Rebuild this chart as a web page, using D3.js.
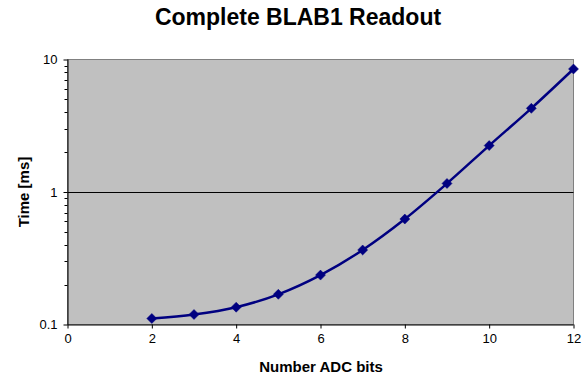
<!DOCTYPE html>
<html>
<head>
<meta charset="utf-8">
<script src="https://cdn.jsdelivr.net/npm/d3@7"></script>
<style>
html,body{margin:0;padding:0;background:#fff;}
svg{display:block;font-family:"Liberation Sans",Arial,Helvetica,sans-serif;}
</style>
</head>
<body>
<svg id="chart" width="584" height="377"></svg>
<script>
const titleText = "Complete BLAB1 Readout";
const xTitle = "Number ADC bits";
const yTitle = "Time [ms]";
const bits = [2, 3, 4, 5, 6, 7, 8, 9, 10, 11, 12];
const timeMs = [0.111, 0.119, 0.135, 0.169, 0.236, 0.365, 0.625, 1.16, 2.24, 4.28, 8.48];
const xTicks = [0, 2, 4, 6, 8, 10, 12];
const yTicks = [0.1, 1, 10];
const yTickLabels = ["0.1", "1", "10"];

const W = 584, H = 377;
const m = {left: 67.5, right: 573.5, top: 59.5, bottom: 324.5};
const svg = d3.select("#chart");

const x = d3.scaleLinear().domain([0, 12]).range([m.left, m.right]);
const y = d3.scaleLog().domain([0.1, 10]).range([m.bottom, m.top]);

// plot area
svg.append("rect")
  .attr("x", m.left).attr("y", m.top)
  .attr("width", m.right - m.left).attr("height", m.bottom - m.top)
  .attr("fill", "#c0c0c0").attr("stroke", "#808080").attr("stroke-width", 1);

// gridlines at major decades
svg.append("g").selectAll("line").data(yTicks.slice(1, -1)).join("line")
  .attr("x1", m.left).attr("x2", m.right)
  .attr("y1", d => Math.round(y(d)) + 0.5).attr("y2", d => Math.round(y(d)) + 0.5)
  .attr("stroke", "#000").attr("stroke-width", 1);

// minor y ticks
const minor = [];
[0.1, 1].forEach(dec => { for (let k = 2; k <= 9; k++) minor.push(dec * k); });

const yAxis = d3.axisLeft(y).tickValues(yTicks).tickFormat((d, i) => yTickLabels[i]).tickSize(4).tickPadding(6);
const gy = svg.append("g").attr("transform", `translate(${m.left},0)`).call(yAxis);
gy.selectAll(".tick line").attr("stroke", "#000");
gy.select(".domain").attr("stroke", "#000").attr("d", `M0.5,${m.top}V${m.bottom}`);
gy.selectAll("text").attr("font-size", 13).attr("fill", "#000");
gy.append("g").selectAll("line").data(minor).join("line")
  .attr("x1", -3).attr("x2", 0)
  .attr("y1", d => Math.round(y(d)) + 0.5).attr("y2", d => Math.round(y(d)) + 0.5)
  .attr("stroke", "#000");

const xAxis = d3.axisBottom(x).tickValues(xTicks).tickFormat(d3.format("d")).tickSize(4).tickPadding(5);
const gx = svg.append("g").attr("transform", `translate(0,${m.bottom})`).call(xAxis);
gx.select(".domain").attr("stroke", "#000").attr("d", `M${m.left},0.5H${m.right}`);
gx.selectAll(".tick line").attr("stroke", "#000");
gx.selectAll("text").attr("font-size", 13).attr("fill", "#000");

// line
const pts = bits.map((b, i) => [b, timeMs[i]]);
svg.append("path").datum(pts)
  .attr("fill", "none").attr("stroke", "#000080").attr("stroke-width", 2.5)
  .attr("d", d3.line().x(d => x(d[0])).y(d => y(d[1])).curve(d3.curveCatmullRom.alpha(0)));

svg.append("g").selectAll("path").data(pts).join("path")
  .attr("transform", d => `translate(${x(d[0])},${y(d[1])})`)
  .attr("d", "M0,-5L5,0L0,5L-5,0Z")
  .attr("fill", "#000080").attr("stroke", "#000080").attr("stroke-width", 0.5);

// titles
svg.append("text").attr("x", 298).attr("y", 25).attr("text-anchor", "middle")
  .attr("font-size", 23).attr("font-weight", "bold").text(titleText);
svg.append("text").attr("x", 321).attr("y", 372).attr("text-anchor", "middle")
  .attr("font-size", 15).attr("font-weight", "bold").text(xTitle);
svg.append("text").attr("transform", "translate(29,192) rotate(-90)").attr("text-anchor", "middle")
  .attr("font-size", 15).attr("font-weight", "bold").text(yTitle);
</script>
</body>
</html>
